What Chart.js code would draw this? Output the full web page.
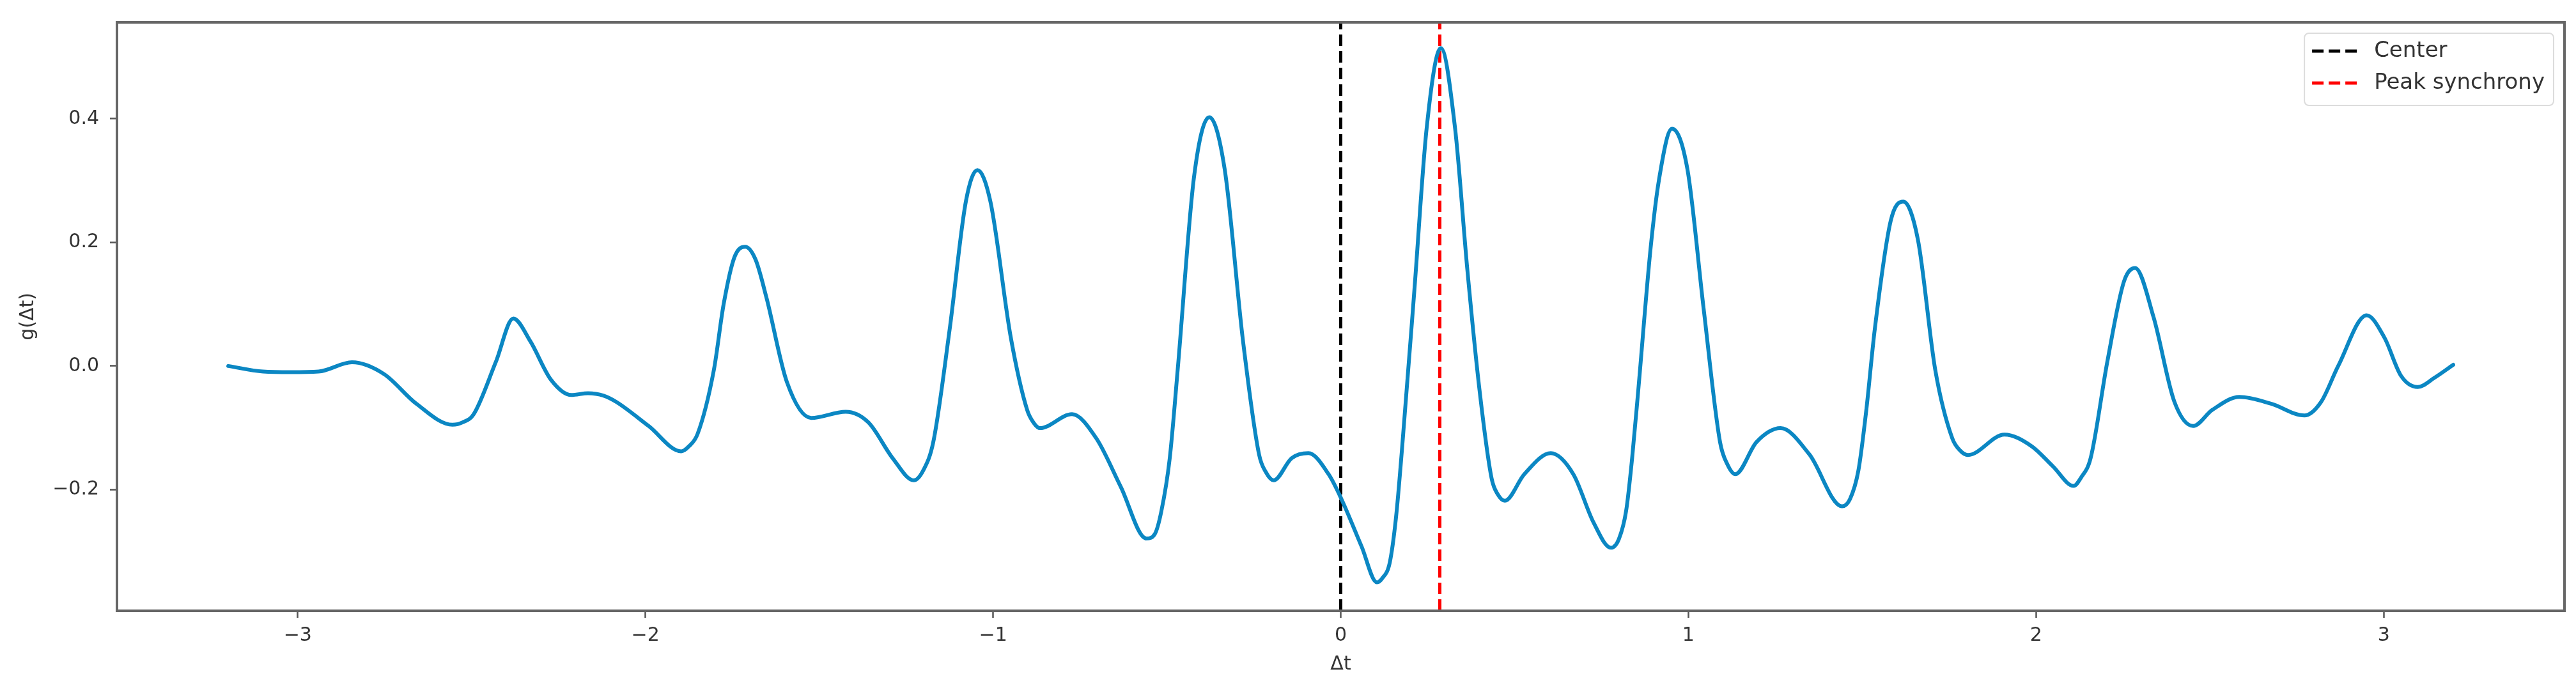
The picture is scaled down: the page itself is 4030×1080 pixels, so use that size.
<!DOCTYPE html>
<html>
<head>
<meta charset="utf-8">
<script src="https://cdn.jsdelivr.net/npm/chart.js@4.4.0/dist/chart.umd.min.js"></script>
<style>
    html, body { margin: 0; padding: 0; background: #fff; }
    #wrap { width: 4030px; height: 1080px; }
</style>
</head>
<body>
<div id="wrap"><canvas id="chart1"></canvas></div>
<script>
// values
const dtValues = [
    -3.20, -3.10, -3.02, -2.94, -2.844, -2.752, -2.659, -2.555, -2.525, -2.494,
    -2.43, -2.380, -2.331, -2.272, -2.213, -2.165, -2.12, -2.084, -1.991, -1.897,
    -1.875, -1.850, -1.803, -1.775, -1.744, -1.713, -1.683, -1.652, -1.593, -1.523,
    -1.424, -1.359, -1.289, -1.228, -1.200, -1.172, -1.125, -1.078, -1.045, -1.008,
    -0.949, -0.902, -0.883, -0.865, -0.773, -0.703, -0.633, -0.559, -0.535, -0.516,
    -0.492, -0.469, -0.422, -0.378, -0.334, -0.281, -0.235, -0.215, -0.193, -0.141,
    -0.093, -0.035, 0.001, 0.060, 0.104, 0.120, 0.141, 0.159, 0.176, 0.212,
    0.247, 0.288, 0.329, 0.364, 0.399, 0.434, 0.452, 0.472, 0.528, 0.604,
    0.669, 0.727, 0.777, 0.800, 0.821, 0.838, 0.856, 0.891, 0.915, 0.953,
    0.997, 1.044, 1.091, 1.113, 1.135, 1.196, 1.265, 1.348, 1.442, 1.465,
    1.489, 1.512, 1.536, 1.582, 1.618, 1.660, 1.710, 1.759, 1.782, 1.804,
    1.909, 1.988, 2.048, 2.108, 2.130, 2.157, 2.205, 2.253, 2.285, 2.338,
    2.398, 2.452, 2.507, 2.585, 2.676, 2.772, 2.820, 2.869, 2.951, 3.002,
    3.050, 3.098, 3.146, 3.200
];
const gValues = [
    0.000, -0.009, -0.010, -0.009, 0.006, -0.013, -0.061, -0.095, -0.091, -0.078,
    0.007, 0.077, 0.040, -0.022, -0.047, -0.044, -0.048, -0.058, -0.097, -0.138,
    -0.130, -0.110, -0.006, 0.100, 0.176, 0.193, 0.172, 0.111, -0.026, -0.084,
    -0.074, -0.091, -0.149, -0.185, -0.168, -0.123, 0.059, 0.267, 0.317, 0.267,
    0.046, -0.071, -0.092, -0.1005, -0.078, -0.117, -0.195, -0.279, -0.272, -0.235,
    -0.150, -0.006, 0.306, 0.4026, 0.319, 0.040, -0.143, -0.172, -0.185, -0.149,
    -0.141, -0.175, -0.214, -0.292, -0.350, -0.343, -0.318, -0.245, -0.136, 0.124,
    0.384, 0.5145, 0.384, 0.157, -0.038, -0.182, -0.208, -0.218, -0.175, -0.141,
    -0.175, -0.253, -0.294, -0.280, -0.234, -0.150, -0.038, 0.189, 0.300, 0.384,
    0.319, 0.092, -0.123, -0.160, -0.175, -0.123, -0.1005, -0.143, -0.227, -0.215,
    -0.169, -0.070, 0.059, 0.235, 0.266, 0.205, -0.006, -0.117, -0.137, -0.144,
    -0.111, -0.130, -0.162, -0.194, -0.180, -0.149, 0.007, 0.137, 0.1586, 0.079,
    -0.058, -0.097, -0.071, -0.050, -0.061, -0.080, -0.058, 0.000, 0.082, 0.046,
    -0.016, -0.034, -0.019, 0.002
];
const xTicks = [-3, -2, -1, 0, 1, 2, 3];
const yTicks = [-0.2, 0.0, 0.2, 0.4];
const centerDt = 0;
const peakDt = 0.285;
const xRange = [-3.52, 3.52];
const yRange = [-0.396, 0.556];

Chart.defaults.font.family = "'DejaVu Sans', sans-serif";
Chart.defaults.color = '#333';

const fmt = (v, d) => (v < 0 ? '\u2212' : '') + Math.abs(v).toFixed(d);

// matplotlib style box round the plot
const frame = {
    id: 'frame',
    afterDatasetsDraw(chart) {
        const {ctx, chartArea} = chart;
        ctx.save();
        ctx.strokeStyle = '#666';
        ctx.lineWidth = 4;
        ctx.strokeRect(chartArea.left, chartArea.top, chartArea.right - chartArea.left, chartArea.bottom - chartArea.top);
        ctx.restore();
    }
};

// legend inside the plot, upper right
const insideLegend = {
    id: 'insideLegend',
    afterDraw(chart) {
        const {ctx, chartArea} = chart;
        const items = chart.data.datasets.filter(d => d.inLegend);
        ctx.save();
        ctx.font = "34px 'DejaVu Sans'";
        const textW = Math.max(...items.map(d => ctx.measureText(d.label).width));
        const w = 12 + 70 + 27 + textW + 14;
        const h = 113;
        const x0 = chartArea.right - 17 - w;
        const y0 = chartArea.top + 17;
        ctx.beginPath();
        ctx.roundRect(x0, y0, w, h, 7);
        ctx.fillStyle = 'rgba(255,255,255,0.8)';
        ctx.fill();
        ctx.strokeStyle = '#dcdcdc';
        ctx.lineWidth = 2;
        ctx.stroke();
        items.forEach((d, i) => {
            const cy = y0 + 28 + i * 50;
            ctx.beginPath();
            ctx.setLineDash(d.borderDash);
            ctx.strokeStyle = d.borderColor;
            ctx.lineWidth = d.borderWidth;
            ctx.moveTo(x0 + 12, cy);
            ctx.lineTo(x0 + 82, cy);
            ctx.stroke();
            ctx.setLineDash([]);
            ctx.fillStyle = '#333';
            ctx.textBaseline = 'middle';
            ctx.textAlign = 'left';
            ctx.fillText(d.label, x0 + 109, cy);
        });
        ctx.restore();
    }
};

const chartdata = {
    datasets: [{
        label: 'g(\u0394t)',
        data: dtValues.map((x, i) => ({x: x, y: gValues[i]})),
        borderColor: '#0b87c3',
        borderWidth: 6,
        pointRadius: 0,
        cubicInterpolationMode: 'monotone',
        borderJoinStyle: 'round',
        borderCapStyle: 'round',
    }, {
        label: 'Center',
        inLegend: true,
        data: [{x: centerDt, y: yRange[0]}, {x: centerDt, y: yRange[1]}],
        borderColor: '#000000',
        borderWidth: 5,
        borderDash: [18, 8],
        pointRadius: 0,
    }, {
        label: 'Peak synchrony',
        inLegend: true,
        data: [{x: peakDt, y: yRange[0]}, {x: peakDt, y: yRange[1]}],
        borderColor: '#ff0000',
        borderWidth: 5,
        borderDash: [18, 8],
        pointRadius: 0,
    }]
};

const config = {
    type: 'line',
    data: chartdata,
    options: {
        responsive: true,
        maintainAspectRatio: false,
        animation: false,
        layout: {
            padding: {top: 23, right: 18, left: 0, bottom: 0}
        },
        scales: {
            x: {
                type: 'linear',
                min: xRange[0],
                max: xRange[1],
                afterBuildTicks: (scale) => { scale.ticks = xTicks.map(v => ({value: v})); },
                afterFit: (scale) => { scale.height = 124; },
                border: {display: false},
                grid: {
                    drawOnChartArea: false,
                    drawTicks: true,
                    tickLength: 11,
                    tickWidth: 2.5,
                    tickColor: '#555',
                },
                ticks: {
                    padding: 10,
                    maxRotation: 0,
                    font: {size: 30},
                    callback: (v) => fmt(v, 0),
                },
                title: {
                    display: true,
                    text: '\u0394t',
                    font: {size: 30},
                    padding: {top: 0, bottom: 22},
                }
            },
            y: {
                type: 'linear',
                min: yRange[0],
                max: yRange[1],
                afterBuildTicks: (scale) => { scale.ticks = yTicks.map(v => ({value: v})); },
                afterFit: (scale) => { scale.width = 183; },
                border: {display: false},
                grid: {
                    drawOnChartArea: false,
                    drawTicks: true,
                    tickLength: 11,
                    tickWidth: 2.5,
                    tickColor: '#555',
                },
                ticks: {
                    padding: 17,
                    font: {size: 30},
                    callback: (v) => fmt(v, 1),
                },
                title: {
                    display: true,
                    text: 'g(\u0394t)',
                    font: {size: 30},
                    padding: {top: 26, bottom: 0},
                }
            }
        },
        plugins: {
            legend: {display: false},
            tooltip: {enabled: false},
        }
    },
    plugins: [frame, insideLegend]
};

const ctx = document.getElementById('chart1').getContext('2d');
const newChart = new Chart(ctx, config);
</script>
</body>
</html>
